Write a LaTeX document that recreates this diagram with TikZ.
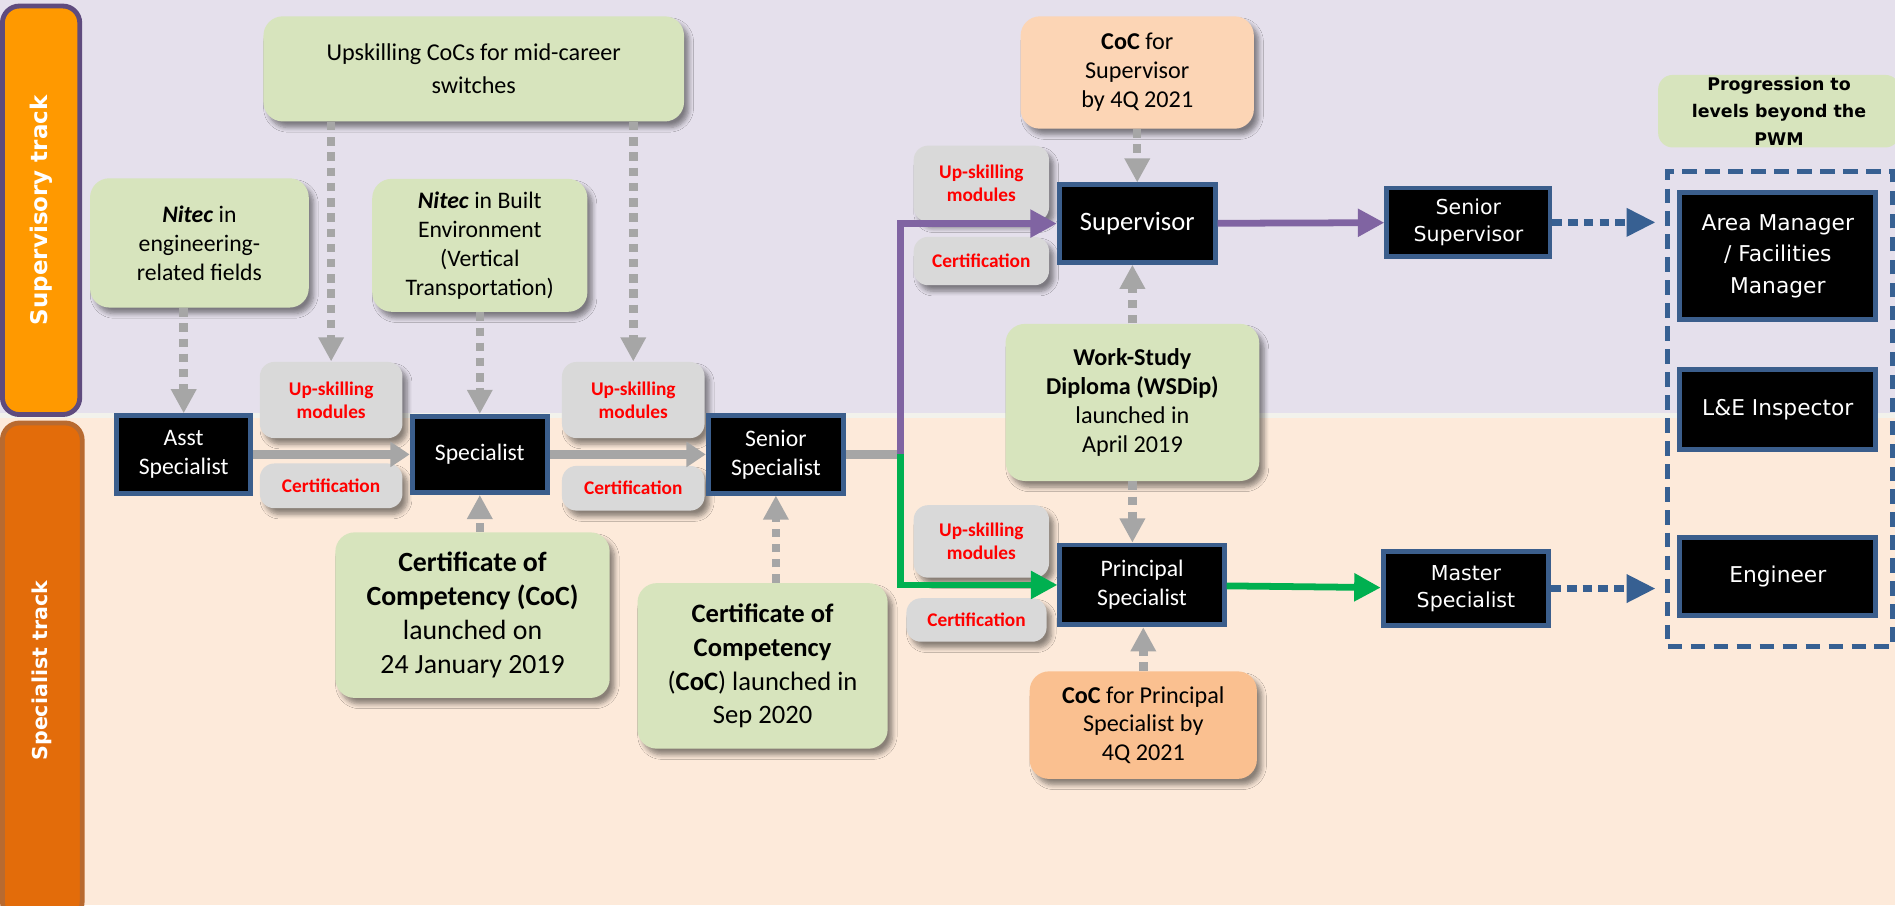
\documentclass[tikz,border=0pt]{standalone}
\usepackage{fontspec}
\setmainfont{Carlito}
\newfontfamily\verdfont{DejaVu Sans}
\usepackage{xcolor}
\usetikzlibrary{arrows.meta,shadows.blur}
\definecolor{bandtop}{HTML}{E5E0EC}
\definecolor{bandbot}{HTML}{FDEADA}
\definecolor{bandline}{HTML}{F2F2EC}
\definecolor{supvorange}{HTML}{FF9900}
\definecolor{supvedge}{HTML}{5F4B7E}
\definecolor{specorange}{HTML}{E36C0A}
\definecolor{specedge}{HTML}{B86A30}
\definecolor{srcgreen}{HTML}{D7E4BD}
\definecolor{cocpeach}{HTML}{FCD5B5}
\definecolor{cocorange}{HTML}{FAC090}
\definecolor{modgray}{HTML}{D9D9D9}
\definecolor{jobblue}{HTML}{3B5E8C}
\definecolor{arrgray}{HTML}{A6A6A6}
\definecolor{pathpurple}{HTML}{8064A2}
\definecolor{pathgreen}{HTML}{00B050}
\definecolor{dashblue}{HTML}{376092}
\tikzset{
	trackbox/.style={rounded corners=7pt,line width=2pt,inner sep=0pt,rotate=90,text=white,
		font=\verdfont\bfseries\fontsize{9.5}{11}\selectfont},
	job/.style={draw=jobblue,line width=2pt,fill=black,text=white,align=center,inner sep=0pt,
		font=\fontsize{9.8}{12}\selectfont},
	jobwide/.style={job,font=\verdfont\fontsize{8.5}{11.5}\selectfont},
	srcbox/.style={rounded corners=8pt,fill=srcgreen,align=center,inner sep=0pt,
		blur shadow={shadow xshift=2pt,shadow yshift=-2.5pt,shadow blur steps=6,shadow opacity=45}},
	modbox/.style={rounded corners=6pt,fill=modgray,text=red,align=center,inner sep=0pt,
		font=\bfseries\fontsize{8}{9.5}\selectfont,
		blur shadow={shadow xshift=2pt,shadow yshift=-2.5pt,shadow blur steps=6,shadow opacity=45}},
	gdash/.style={draw=arrgray,line width=3.5pt,dash pattern=on 3.5pt off 2.8pt,-{Triangle[length=10pt,width=10pt]}},
	gline/.style={draw=arrgray,line width=3.5pt,-{Triangle[length=8pt,width=10pt]}},
	ptrack/.style={draw=#1,line width=2.8pt,-{Triangle[length=11pt,width=11pt]}},
	bdash/.style={draw=dashblue,line width=3pt,dash pattern=on 4pt off 2.5pt,-{Triangle[length=12pt,width=11pt]}}
}
\begin{document}
\begin{tikzpicture}[x=0.5pt,y=-0.5pt]
	\useasboundingbox (0,0) rectangle (1568,749);
	\fill[fill=bandline] (0,0) rectangle (1568,749);
	\fill[fill=bandtop] (0,0) rectangle (1568,342);
	\fill[fill=bandbot] (0,346) rectangle (1568,749);

	\node[trackbox,fill=supvorange,draw=supvedge,minimum width=169pt,minimum height=32pt] (suptrack) at (34,174) {Supervisory track};
	\node[trackbox,fill=specorange,draw=specedge,minimum width=205pt,minimum height=33pt,
		font=\verdfont\bfseries\fontsize{8.5}{10}\selectfont] (spectrack) at (35,555) {Specialist track};

	\node[srcbox,minimum width=174pt,minimum height=43.5pt,font=\fontsize{10}{13.4}\selectfont] (midcareer) at (392,57)
		{Upskilling CoCs for mid-career\\switches};
	\node[srcbox,minimum width=90.5pt,minimum height=53.5pt,font=\fontsize{9.8}{12}\selectfont] (nitecA) at (165,201)
		{\textbf{\textit{Nitec}} in\\engineering-\\related fields};
	\node[srcbox,minimum width=89pt,minimum height=55pt,font=\fontsize{9.8}{12}\selectfont] (nitecB) at (397,203)
		{\textbf{\textit{Nitec}} in Built\\Environment\\(Vertical\\Transportation)};
	\node[srcbox,minimum width=113.5pt,minimum height=68.5pt,font=\fontsize{11.5}{14}\selectfont] (cocA) at (391,509)
		{\textbf{Certificate of}\\\textbf{Competency (CoC)}\\launched on\\24 January 2019};
	\node[srcbox,minimum width=103.5pt,minimum height=68.5pt,font=\fontsize{11}{14}\selectfont] (cocB) at (631,551)
		{\textbf{Certificate of}\\\textbf{Competency}\\(\textbf{CoC}) launched in\\Sep 2020};
	\node[srcbox,minimum width=105pt,minimum height=65pt,font=\fontsize{10}{12}\selectfont] (wsdip) at (937,333)
		{\textbf{Work-Study}\\\textbf{Diploma (WSDip)}\\launched in\\April 2019};
	\node[srcbox,fill=cocpeach,minimum width=96.5pt,minimum height=46.5pt,font=\fontsize{10}{12}\selectfont] (cocsup) at (941,60)
		{\textbf{CoC} for\\Supervisor\\by 4Q 2021};
	\node[srcbox,fill=cocorange,minimum width=94pt,minimum height=44.5pt,font=\fontsize{10}{11.7}\selectfont] (cocprin) at (946,600)
		{\textbf{CoC} for Principal\\Specialist by\\4Q 2021};
	\node[rounded corners=6pt,fill=srcgreen,minimum width=100pt,minimum height=30pt,align=center,inner sep=0pt,
		font=\verdfont\bfseries\fontsize{7.2}{11.5}\selectfont] (beyondlabel) at (1472,92)
		{Progression to\\levels beyond the\\PWM};

	\node[modbox,minimum width=59pt,minimum height=31.5pt] (modA) at (274,331) {Up-skilling\\modules};
	\node[modbox,minimum width=59pt,minimum height=18.5pt] (certA) at (274,402) {Certification};
	\node[modbox,minimum width=59pt,minimum height=31.5pt] (modB) at (524,331) {Up-skilling\\modules};
	\node[modbox,minimum width=59pt,minimum height=18.5pt] (certB) at (524,404) {Certification};
	\node[modbox,minimum width=56pt,minimum height=31.5pt] (modC) at (812,152) {Up-skilling\\modules};
	\node[modbox,minimum width=56pt,minimum height=20pt] (certC) at (812,216) {Certification};
	\node[modbox,minimum width=56pt,minimum height=30pt] (modD) at (812,448) {Up-skilling\\modules};
	\node[modbox,minimum width=58pt,minimum height=18pt] (certD) at (808,513) {Certification};

	\node[job,minimum width=55.5pt,minimum height=32pt] (asst) at (152,376) {Asst\\Specialist};
	\node[job,minimum width=56pt,minimum height=31.5pt] (spec) at (397,376) {Specialist};
	\node[job,minimum width=56pt,minimum height=32pt] (senspec) at (642,376) {Senior\\Specialist};
	\node[job,minimum width=64.5pt,minimum height=32pt,font=\fontsize{11}{13}\selectfont] (supv) at (941,185) {Supervisor};
	\node[job,minimum width=68pt,minimum height=33pt,font=\fontsize{9.8}{12}\selectfont] (prin) at (945,484) {Principal\\Specialist};
	\node[jobwide,minimum width=67.5pt,minimum height=28.5pt] (sensup) at (1215,184) {Senior\\Supervisor};
	\node[jobwide,minimum width=68.5pt,minimum height=30.5pt] (master) at (1213,487) {Master\\Specialist};
	\node[draw=dashblue,line width=2pt,dash pattern=on 6pt off 3.5pt,minimum width=93pt,minimum height=196.5pt] (beyond) at (1473,338.5) {};
	\node[jobwide,font=\verdfont\fontsize{9}{13}\selectfont,minimum width=81pt,minimum height=52.5pt] (areamgr) at (1471,212)
		{Area Manager\\/ Facilities\\Manager};
	\node[jobwide,font=\verdfont\fontsize{9}{13}\selectfont,minimum width=81pt,minimum height=33pt] (inspector) at (1471,339) {L\&E Inspector};
	\node[jobwide,font=\verdfont\fontsize{9}{13}\selectfont,minimum width=81pt,minimum height=32.5pt] (engineer) at (1471,477) {Engineer};

	\draw[gdash] (asst.north |- nitecA.south) -- (asst.north);
	\draw[gdash] (modA.north |- midcareer.south) -- (modA.north);
	\draw[gdash] (modB.north |- midcareer.south) -- (modB.north);
	\draw[gdash] (nitecB.south) -- (spec.north);
	\draw[gdash] (cocA.north -| spec.south) -- (spec.south);
	\draw[gdash] (cocB.north -| senspec.south) -- (senspec.south);
	\draw[gdash] (cocsup.south) -- (supv.north);
	\draw[gdash] (wsdip.north) -- (wsdip.north |- supv.south);
	\draw[gdash] (wsdip.south) -- (wsdip.south |- prin.north);
	\draw[gdash] (cocprin.north) -- (cocprin.north |- prin.south);

	\draw[gline] (asst) -- (spec);
	\draw[gline] (spec) -- (senspec);
	\coordinate (split) at (745,376);
	\draw[draw=arrgray,line width=3.5pt] (senspec.east) -- (split);
	\draw[ptrack=pathpurple] (split) |- (supv.west);
	\draw[ptrack=pathgreen] (split) |- (prin.west);
	\draw[ptrack=pathpurple] (supv) -- (sensup);
	\draw[ptrack=pathgreen] (prin) -- (master);
	\draw[bdash,shorten >=4pt] (sensup.east) -- (sensup.east -| beyond.west);
	\draw[bdash,shorten >=4pt] (master.east) -- (master.east -| beyond.west);
\end{tikzpicture}
\end{document}
